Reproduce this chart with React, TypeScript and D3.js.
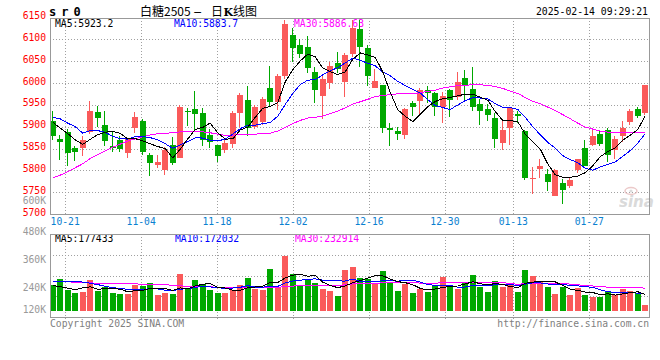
import React from "react";
import * as d3 from "d3";

// trading days shown (10-17 .. 02-14)
const dates = [
  "10-17", "10-18", "10-21", "10-22", "10-23", "10-24", "10-25", "10-28", "10-29", "10-30",
  "10-31", "11-01", "11-04", "11-05", "11-06", "11-07", "11-08", "11-11", "11-12", "11-13",
  "11-14", "11-15", "11-18", "11-19", "11-20", "11-21", "11-22", "11-25", "11-26", "11-27",
  "11-28", "11-29", "12-02", "12-03", "12-04", "12-05", "12-06", "12-09", "12-10", "12-11",
  "12-12", "12-13", "12-16", "12-17", "12-18", "12-19", "12-20", "12-23", "12-24", "12-25",
  "12-26", "12-27", "12-30", "12-31", "01-02", "01-03", "01-06", "01-07", "01-08", "01-09",
  "01-10", "01-13", "01-14", "01-15", "01-16", "01-17", "01-20", "01-21", "01-22", "01-23",
  "01-24", "01-27", "02-05", "02-06", "02-07", "02-10", "02-11", "02-12", "02-13", "02-14",
];
const axisDates = ["10-21", "11-04", "11-18", "12-02", "12-16", "12-30", "01-13", "01-27"];

const opens = [
  5913, 5872, 5887, 5851, 5851, 5888, 5933, 5904, 5856, 5870,
  5840, 5897, 5912, 5836, 5813, 5800, 5858, 5828, 5936, 5941,
  5932, 5880, 5857, 5847, 5860, 5931, 5961, 5900, 5910, 5989,
  5956, 6015, 6110, 6087, 6082, 6025, 5971, 6000, 6045, 6003,
  6066, 6124, 6081, 5989, 5996, 5897, 5891, 5881, 5955, 5958,
  5983, 5978, 5945, 5985, 5969, 6011, 5987, 5952, 5941, 5920,
  5862, 5897, 5929, 5889, 5780, 5803, 5792, 5741, 5771, 5765,
  5800, 5851, 5859, 5884, 5893, 5847, 5878, 5910, 5941, 5931,
];
const highs = [
  5937, 5881, 5895, 5856, 5879, 5959, 5948, 5937, 5888, 5878,
  5874, 5934, 5917, 5840, 5835, 5853, 5877, 5950, 5942, 5982,
  5942, 5895, 5858, 5870, 5937, 5977, 5992, 5950, 5969, 6040,
  6020, 6144, 6125, 6101, 6108, 6037, 6015, 6049, 6070, 6069,
  6144, 6144, 6087, 6032, 5996, 5908, 5900, 5942, 5958, 5989,
  5994, 5980, 5980, 5986, 6025, 6030, 6037, 5963, 5952, 5931,
  5912, 5946, 5935, 5893, 5808, 5826, 5802, 5802, 5780, 5783,
  5827, 5870, 5897, 5893, 5897, 5878, 5912, 5940, 5946, 5995,
];
const lows = [
  5870, 5824, 5811, 5822, 5832, 5883, 5900, 5855, 5843, 5841,
  5828, 5885, 5834, 5787, 5806, 5790, 5812, 5828, 5902, 5889,
  5855, 5851, 5818, 5840, 5851, 5900, 5878, 5895, 5904, 5946,
  5938, 6009, 6049, 6057, 6024, 5954, 5917, 5986, 6022, 5969,
  6060, 6037, 5994, 5989, 5885, 5855, 5870, 5872, 5924, 5927,
  5954, 5924, 5908, 5922, 5960, 5960, 5935, 5904, 5912, 5852,
  5847, 5858, 5908, 5779, 5745, 5782, 5752, 5741, 5724, 5760,
  5794, 5811, 5855, 5855, 5820, 5827, 5866, 5904, 5920, 5926,
];
const closes = [
  5878, 5866, 5840, 5843, 5870, 5936, 5920, 5868, 5852, 5849,
  5872, 5922, 5843, 5817, 5819, 5847, 5816, 5944, 5933, 5929,
  5870, 5865, 5832, 5862, 5931, 5973, 5897, 5944, 5964, 5956,
  6015, 6135, 6081, 6066, 6034, 5983, 6009, 6039, 6032, 6064,
  6127, 6082, 6016, 6005, 5898, 5893, 5883, 5940, 5944, 5983,
  5977, 5945, 5970, 5960, 6002, 5994, 5946, 5935, 5926, 5872,
  5893, 5942, 5925, 5783, 5782, 5811, 5773, 5800, 5756, 5779,
  5827, 5811, 5879, 5861, 5836, 5872, 5898, 5935, 5925, 5995,
];
const volumes = [
  260600, 286400, 239100, 227400, 231700, 282100, 236100, 252000, 226200, 221900,
  224900, 261900, 256300, 269200, 217500, 227400, 221900, 307900, 246400, 282100,
  264900, 239100, 227400, 227400, 239100, 260600, 290700, 246400, 242100, 329400,
  253300, 386600, 307900, 260600, 286400, 270500, 243400, 236100, 213200, 325100,
  338000, 290700, 285100, 270500, 320800, 267900, 234800, 263600, 226200, 243400,
  231700, 256300, 295000, 256300, 246400, 274800, 303600, 253300, 230500, 277800,
  253300, 259300, 230500, 325100, 300600, 272200, 253300, 221900, 252000, 217500,
  247700, 217500, 210200, 210200, 231700, 220600, 244700, 236100, 229200, 174500,
];

// averages before enough history is on screen
const ma5Head = [5910, 5897, 5884, 5870];
const ma10Head = [5921, 5918, 5908, 5900, 5885, 5891, 5891, 5887, 5878];
const ma30Head = [
  5783, 5789, 5797, 5806, 5815, 5827, 5836, 5845, 5853, 5860,
  5867, 5872, 5877, 5881, 5884, 5885, 5886, 5888, 5889, 5889,
  5888, 5886, 5883, 5880, 5880, 5883, 5883, 5883, 5884,
];
const volMa5Head = [259000, 254000, 248000, 241000];
const volMa10Head = [278000, 278000, 277000, 276000, 274000, 269000, 263000, 256000, 250000];
const volMa30Head = [
  277800, 276500, 274800, 273500, 272200, 270500, 269200, 267900, 267900, 266200,
  266200, 266200, 264900, 264900, 264900, 263600, 259300, 257600, 256300, 256300,
  255000, 253300, 252000, 250700, 249000, 249000, 250700, 250700, 250700,
];

const priceTicks = [5700, 5750, 5800, 5850, 5900, 5950, 6000, 6050, 6100, 6150];
const volTicks = [480000, 360000, 240000, 120000];
const priceMaLabels = ["MA5:5923.2", "MA10:5883.7", "MA30:5886.63"];
const volMaLabels = ["MA5:177433", "MA10:172032", "MA30:232914"];
const maColors = ["#000000", "#0000ff", "#ff00ff"];

const UP = "#fa5a5a";
const DOWN = "#00a800";
const MONO = "'DejaVu Sans Mono', monospace";
const CJK = "'Noto Sans CJK SC', sans-serif";
const L = 50, R = 650;
const P_TOP = 18, P_BOT = 214;
const V_TOP = 234, V_BOT = 317;
const VOL_BASE = 150000;

function movingAvg(vals: number[], n: number, head: number[]) {
  return vals.map((_, i) =>
    i < n - 1 ? head[i] : (d3.mean(vals.slice(i - n + 1, i + 1)) as number)
  );
}

export default function App() {
  const n = dates.length;
  const band = d3.scaleBand<number>().domain(d3.range(n)).range([49, 649]);
  const cx = (i: number) => (band(i) as number) + band.bandwidth() / 2;
  const gx = d3.scaleLinear().domain([0, n - 1]).range([L, R]);
  const y = d3.scaleLinear().domain([5700, 6150]).range([P_BOT, 17.5]);
  const vy = d3.scaleLinear().domain([VOL_BASE, 480000]).range([311, V_TOP]);

  const priceMas = [
    movingAvg(closes, 5, ma5Head),
    movingAvg(closes, 10, ma10Head),
    movingAvg(closes, 30, ma30Head),
  ];
  const volMas = [
    movingAvg(volumes, 5, volMa5Head),
    movingAvg(volumes, 10, volMa10Head),
    movingAvg(volumes, 30, volMa30Head),
  ];
  const priceLine = d3.line<number>().x((_, i) => cx(i)).y((d) => y(d));
  const volLine = d3.line<number>().x((_, i) => cx(i)).y((d) => vy(d));

  const gridIdx = axisDates.map((d) => dates.indexOf(d));
  const half = (v: number) => Math.round(v) + 0.5;

  return (
    <svg
      width={660}
      height={360}
      style={{ position: "absolute", left: 0, top: 0, background: "#fff" }}
    >
      {/* header */}
      <text x={49} y={16} fontFamily={MONO} fontWeight="bold" fontSize={12} letterSpacing={5}>
        sr0
      </text>
      <text y={16} fontSize={12} fill="#000">
        <tspan x={140} fontFamily={CJK}>白糖2505</tspan>
        <tspan x={193} fontFamily="'DejaVu Sans', sans-serif" fontSize={11}>−</tspan>
        <tspan x={211} fontFamily={CJK}>日</tspan>
        <tspan x={223.5} fontFamily="'DejaVu Serif', serif" fontWeight="bold" fontSize={11}>K</tspan>
        <tspan x={233} fontFamily={CJK}>线图</tspan>
      </text>
      <text x={648} y={15} textAnchor="end" fontFamily={MONO} fontSize={9.8}>
        2025-02-14 09:29:21
      </text>

      {/* grid */}
      <g stroke="#a0a0a0" strokeDasharray="1,2" shapeRendering="crispEdges">
        {priceTicks.slice(1, -1).map((t) => (
          <line key={t} x1={L} x2={R} y1={half(y(t))} y2={half(y(t))} />
        ))}
        {gridIdx.map((i) => (
          <line key={"p" + i} x1={half(gx(i))} x2={half(gx(i))} y1={P_TOP} y2={P_BOT} />
        ))}
        {[1, 2, 3].map((k) => {
          const yy = half(V_TOP + ((V_BOT - V_TOP) * k) / 4);
          return <line key={"v" + k} x1={L} x2={R} y1={yy} y2={yy} />;
        })}
        {gridIdx.map((i) => (
          <line key={"q" + i} x1={half(gx(i))} x2={half(gx(i))} y1={V_TOP} y2={320} />
        ))}
      </g>

      {/* axis labels */}
      <g fontFamily={MONO} fontSize={9.7}>
        {priceTicks.map((t) => (
          <text key={t} x={46} y={y(t) - 1.5} textAnchor="end" dominantBaseline="middle" fill="#ff0000">
            {t}
          </text>
        ))}
        <text x={46} y={201} textAnchor="end" dominantBaseline="middle" fill="#999">
          600K
        </text>
        {gridIdx.map((i) => (
          <text key={i} x={gx(i)} y={225} textAnchor="middle" fill="#0a80d0">
            {dates[i]}
          </text>
        ))}
        {volTicks.map((v) => (
          <text
            key={v}
            x={46}
            y={Math.min(vy(v) - 2, 310)}
            textAnchor="end"
            dominantBaseline="middle"
            fill="#999"
          >
            {v / 1000 + "K"}
          </text>
        ))}
        {priceMaLabels.map((s, k) => (
          <text key={s} x={[55, 174, 294][k]} y={27} fill={maColors[k]}>
            {s}
          </text>
        ))}
        {volMaLabels.map((s, k) => (
          <text key={s} x={[55, 175, 295][k]} y={241.5} fill={maColors[k]}>
            {s}
          </text>
        ))}
        <text x={50} y={327} fill="#808080">
          Copyright 2025 SINA.COM
        </text>
        <text x={649} y={327} textAnchor="end" fill="#808080">
          http://finance.sina.com.cn
        </text>
      </g>

      {/* sina watermark */}
      <g opacity={0.9}>
        <ellipse cx={631} cy={191} rx={6} ry={3.5} fill="none" stroke="#eac4c4" strokeWidth={1.5} />
        <circle cx={631} cy={191} r={1.6} fill="#d9d9d9" />
        <text x={619} y={207} fontFamily="'DejaVu Sans', sans-serif" fontStyle="italic" fontWeight="bold" fontSize={15} fill="#d6d6d6">
          sina
        </text>
      </g>

      {/* candles */}
      <g shapeRendering="crispEdges">
        {closes.map((c, i) => {
          const o = opens[i];
          const col = c >= o ? UP : DOWN;
          const x0 = Math.round(cx(i) - 3);
          const top = Math.round(y(Math.max(o, c)));
          const bot = Math.round(y(Math.min(o, c)));
          return (
            <g key={i} fill={col} stroke={col}>
              <line x1={x0 + 2.5} x2={x0 + 2.5} y1={Math.round(y(highs[i]))} y2={Math.round(y(lows[i]))} strokeWidth={1} />
              <rect x={x0} y={top} width={6} height={Math.max(1, bot - top)} stroke="none" />
            </g>
          );
        })}
      </g>

      {/* volume bars */}
      <g shapeRendering="crispEdges">
        {volumes.map((v, i) => {
          const top = Math.round(vy(v));
          return (
            <rect
              key={i}
              x={Math.round(cx(i) - 3)}
              y={top}
              width={6}
              height={Math.round(vy(VOL_BASE)) - top}
              fill={closes[i] >= opens[i] ? UP : DOWN}
            />
          );
        })}
      </g>

      {/* moving averages */}
      <g fill="none" strokeWidth={1} shapeRendering="crispEdges">
        {priceMas.map((m, k) => (
          <path key={"pm" + k} d={priceLine(m) as string} stroke={maColors[k]} />
        )).reverse()}
        {volMas.map((m, k) => (
          <path key={"vm" + k} d={volLine(m) as string} stroke={maColors[k]} />
        )).reverse()}
      </g>

      {/* frames */}
      <g fill="none" stroke="#999" shapeRendering="crispEdges">
        <rect x={L + 0.5} y={P_TOP + 0.5} width={R - L - 1} height={P_BOT - P_TOP} />
        <rect x={L + 0.5} y={V_TOP + 0.5} width={R - L - 1} height={V_BOT - V_TOP} />
      </g>
    </svg>
  );
}
